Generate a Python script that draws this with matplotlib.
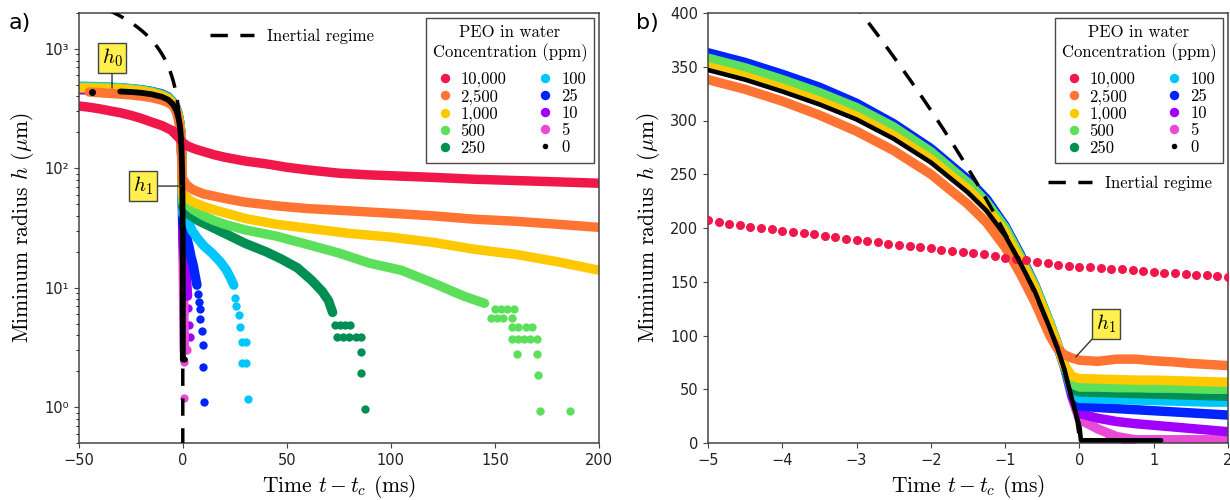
import numpy as np
import matplotlib.pyplot as plt
from matplotlib.lines import Line2D
from matplotlib.ticker import FixedLocator, FixedFormatter, LogLocator, NullFormatter

plt.rcParams['mathtext.fontset'] = 'cm'
plt.rcParams['font.family'] = 'DejaVu Sans'

# ---- data (time t - t_c in ms, minimum radius h in micrometres) ----
labels = ['10,000', '2,500', '1,000', '500', '250', '100', '25', '10', '5', '0']
colors = ['#F0174B', '#FF7433', '#FFC800', '#5CE05C', '#008F52',
          '#00C6FF', '#0024FF', '#A100FF', '#E84BD6', 'black']

t_pre = [-50, -45, -40, -35, -30, -25, -20, -15, -10, -7]
t_mid = [-5, -4.5, -4, -3.5, -3, -2.5, -2, -1.5, -1.25, -1, -0.8, -0.6, -0.4,
         -0.3, -0.2, -0.1, 0, 0.25, 0.5, 0.75, 1, 1.25, 1.5, 1.75, 2]

# 10,000 ppm: frames in the zoomed window are individually visible
t_red_frames = np.linspace(-5, 2, 50)
h_red_frames = [207, 205.5, 203.5, 203, 201, 200, 199, 197, 196.5, 195,
                194, 192.5, 192, 190, 189, 188, 187, 185.5, 184.5, 183.5,
                182, 181, 180, 179, 178, 176.5, 175.5, 174, 172.5, 171.5,
                170, 168.5, 167, 166, 165, 164, 163.5, 163, 162, 161.5,
                161, 160, 159.5, 158.5, 158, 157, 156.5, 156, 155, 154.5]
h_red_pre = [333, 325, 315, 303, 292, 278, 262, 244, 228, 215]
t_red_post = [3, 5, 7, 10, 15, 20, 30, 40, 50, 60, 75, 90, 105, 120, 140, 160, 180, 200]
h_red_post = [152, 147, 143, 138, 130, 124, 115, 109, 102, 97, 91, 88, 86, 84, 81, 79, 77, 75]

# 2,500 ppm
h_orange_pre = [np.nan, 436, 430, 424, 418, 412, 403, 391, 372, 355]
h_orange_mid = [338, 329, 318, 305, 290, 272, 250, 222, 205, 182, 158, 131, 100,
                88, 82, 79, 77, 76, 78, 78, 76.5, 75.5, 74, 73, 72]
t_orange_post = [5, 10, 15, 20, 30, 45, 60, 80, 100, 120, 140, 160, 180, 200]
h_orange_post = [66, 61, 58.5, 56, 52, 48.5, 46, 44, 42, 40, 37.5, 36, 34, 32]

# 1,000 ppm
h_gold_pre = [472, 471, 469, 466, 462, 455, 445, 430, 405, 382]
h_gold_mid = [350, 341, 330, 318, 304, 286, 264, 236, 219, 196, 171, 144, 110,
              92, 72, 62, 60, 59.5, 59, 58.5, 58.5, 58, 57.5, 57, 56.5]
t_gold_post = [5, 10, 15, 20, 30, 45, 60, 80, 100, 120, 140, 160, 180, 200]
h_gold_post = [52, 48, 45, 42.5, 38, 34, 31.5, 28.5, 26.5, 24, 21, 19, 16.5, 14]

# 500 ppm
h_lgreen_pre = [478, 477, 475, 472, 467, 460, 450, 435, 412, 390]
h_lgreen_mid = [358, 349, 338, 326, 312, 294, 271, 242, 224, 200, 174, 146, 112,
                93, 72, 55, 52, 52, 51.5, 51.5, 51, 51, 50.5, 50, 50]
t_lgreen_post = [5, 10, 15, 20, 30, 45, 60, 75, 90, 105, 120, 135, 145]
h_lgreen_post = [45, 40, 36.5, 34, 30.5, 27, 23, 19.5, 16, 14, 11, 8.5, 7.4]
t_lgreen_dots = [150, 153, 156, 159, 148, 151, 154, 158, 158, 161, 165, 168,
                 158, 161, 164, 167, 170, 160.4, 170, 170.8, 171.6, 186.1]
h_lgreen_dots = [6.6, 6.6, 6.6, 6.6, 5.6, 5.6, 5.6, 5.6, 4.7, 4.7, 4.7, 4.7,
                 3.75, 3.75, 3.75, 3.75, 3.75, 2.8, 2.8, 1.87, 0.93, 0.93]

# 250 ppm
h_dgreen_pre = [470, 469, 467, 464, 460, 453, 444, 430, 407, 385]
h_dgreen_mid = [355, 346, 335, 323, 309, 291, 269, 240, 222, 199, 173, 145, 111,
                92, 71, 50, 47.5, 47, 46.5, 46, 45.5, 45, 44.5, 44, 43.5]
t_dgreen_post = [3, 8, 15, 22, 30, 40, 47, 55, 62, 67, 70, 72]
h_dgreen_post = [41, 36, 31.5, 27.5, 23.5, 20, 17.5, 14.7, 11.5, 9.3, 7.8, 6.2]
t_dgreen_dots = [73, 75.5, 78, 80.5, 74, 77, 80, 83, 85.5, 85.8, 85.8, 87.5]
h_dgreen_dots = [4.85, 4.85, 4.85, 4.85, 3.9, 3.9, 3.9, 3.9, 3.9, 2.9, 1.94, 0.97]

# 100 ppm
h_cyan_pre = [488, 486, 483, 479, 473, 465, 454, 438, 414, 390]
h_cyan_mid = [357, 348, 337, 325, 311, 293, 270, 241, 223, 200, 174, 146, 111,
              92, 71, 47, 41.5, 41, 40.5, 40, 39.5, 39, 38.5, 38, 38]
t_cyan_post = [3, 4.5, 7, 10, 14, 18, 21, 23, 24.5]
h_cyan_post = [35, 30, 26, 22.5, 19.5, 16.5, 14, 12, 10.5]
t_cyan_dots = [25, 25.8, 27.1, 27.7, 28.5, 30.2, 28.5, 30.2, 31.4]
h_cyan_dots = [8.2, 7.0, 5.9, 4.7, 3.5, 3.5, 2.35, 2.35, 1.17]

# 25 ppm
h_blue_pre = [482, 481, 479, 476, 471, 464, 455, 441, 420, 396]
h_blue_mid = [363, 354, 343, 331, 316, 297, 274, 245, 227, 202, 176, 147, 112,
              93, 72, 46, 34.5, 33, 32, 31, 30, 29, 28, 27, 26]
t_blue_post = [3, 4, 5, 6, 6.8]
h_blue_post = [22, 18, 15.5, 12.5, 10.5]
t_blue_dots = [7.4, 7.9, 8.2, 8.5, 9, 9.5, 9.8, 10.3]
h_blue_dots = [8.8, 7.6, 6.6, 5.5, 4.3, 3.3, 2.17, 1.1]

# 10 ppm
h_purple_pre = [455, 455, 454, 452, 449, 444, 436, 423, 402, 380]
h_purple_mid = [352, 343, 332, 320, 306, 288, 266, 238, 220, 197, 172, 144, 110,
                92, 71, 44, 27.5, 23, 20, 18, 16.5, 15, 13.5, 12, 10.5]
t_purple_post = [2.3]
h_purple_post = [8.5]
t_purple_dots = [2.6, 3.0, 3.4]
h_purple_dots = [6.8, 4.9, 3.9]

# 5 ppm
h_magenta_pre = [458, 457, 456, 454, 450, 445, 437, 424, 403, 381]
h_magenta_mid = [350, 341, 330, 318, 304, 286, 264, 236, 219, 196, 170, 143, 109,
                 91, 70, 42, 22, 13, 6, 3, 3, 3, 3, 3, 3]
t_magenta_dots = [0.4, 0.5, 0.6, 0.7]
h_magenta_dots = [6, 4.8, 2.4, 1.2]

# 0 ppm (pure water)
t_black = [-30, -25, -20, -15, -10, -7, -5, -4.5, -4, -3.5, -3, -2.5, -2, -1.5,
           -1.25, -1, -0.8, -0.6, -0.4, -0.3, -0.2, -0.1, -0.05, 0, 0.02, 0.25,
           0.5, 0.75, 1, 1.1]
h_black = [440, 436, 429, 417, 397, 375, 347, 338, 327, 315, 301, 283, 261, 233,
           216, 193, 168, 141, 107, 89, 68, 40, 28, 15, 2.5, 2.5, 2.5, 2.5, 2.5, 2.5]
t_black_dots = [-43.4]
h_black_dots = [438]

# inertial regime prefactor, h = A (t_c - t)^(2/3)
A_inertial = 195


def series(pre, mid, t_post=(), h_post=()):
    t = list(t_pre) + list(t_mid) + list(t_post)
    h = list(pre) + list(mid) + list(h_post)
    return t, h


bands = [
    (list(t_pre) + list(t_red_frames) + t_red_post,
     list(h_red_pre) + h_red_frames + h_red_post),
    series(h_orange_pre, h_orange_mid, t_orange_post, h_orange_post),
    series(h_gold_pre, h_gold_mid, t_gold_post, h_gold_post),
    series(h_lgreen_pre, h_lgreen_mid, t_lgreen_post, h_lgreen_post),
    series(h_dgreen_pre, h_dgreen_mid, t_dgreen_post, h_dgreen_post),
    series(h_cyan_pre, h_cyan_mid, t_cyan_post, h_cyan_post),
    series(h_blue_pre, h_blue_mid, t_blue_post, h_blue_post),
    series(h_purple_pre, h_purple_mid, t_purple_post, h_purple_post),
    series(h_magenta_pre, h_magenta_mid),
]
dots = [([], []), ([], []), ([], []), (t_lgreen_dots, h_lgreen_dots),
        (t_dgreen_dots, h_dgreen_dots), (t_cyan_dots, h_cyan_dots),
        (t_blue_dots, h_blue_dots), (t_purple_dots, h_purple_dots),
        (t_magenta_dots, h_magenta_dots)]

t_in = -np.logspace(2, -6, 600)
h_in = A_inertial * (-t_in) ** (2 / 3)

# ---- figure ----
fig = plt.figure(figsize=(12.3, 5), dpi=100)
axa = fig.add_axes([0.064, 0.114, 0.423, 0.86])
axb = fig.add_axes([0.5756, 0.114, 0.4228, 0.86])

serif = {'family': 'cmr10'}
band_lw = 6.8
dot_ms = 6.0
dash = (5, 3.6)

for ax, right in [(axa, False), (axb, True)]:
    for i in range(8, -1, -1):
        t, h = bands[i]
        if right and i == 0:
            ax.plot(t_red_frames, h_red_frames, 'o', color=colors[0], ms=6.5,
                    mec='none', zorder=3)
        else:
            ax.plot(t, h, '-', color=colors[i], lw=band_lw,
                    solid_capstyle='round', solid_joinstyle='round', zorder=2 + 0.01 * (9 - i))
        td, hd = dots[i]
        if len(td):
            ax.plot(td, hd, 'o', color=colors[i], ms=dot_ms, mec='none', zorder=2)
    ax.plot(t_black, h_black, '-', color='black', lw=3.3 if right else 4.2,
            solid_capstyle='round', zorder=4)
    ax.plot(t_black_dots, h_black_dots, 'o', color='black', ms=4, zorder=4)
    ax.plot(t_in, h_in, color='black', lw=2.5, dashes=dash, zorder=5)

    for s in ax.spines.values():
        s.set_color('#444444')
        s.set_linewidth(1.1)
    ax.tick_params(colors='#444444', labelcolor='#222222', labelsize=10.5)
    ax.set_xlabel(r'Time $t - t_c$ (ms)', fontdict=serif, fontsize=15.5)
    ax.set_ylabel(r'Miminum radius $h$ ($\mu$m)', fontdict=serif, fontsize=15.5,
                  labelpad=6)

    handles = [Line2D([], [], ls='none', marker='o', color=c, mec='none',
                      ms=6.8 if c != 'black' else 4.0) for c in colors]
    leg = ax.legend(handles, labels, ncol=2, loc='upper right',
                    bbox_to_anchor=(0.99, 0.988), borderaxespad=0,
                    prop={'family': 'cmr10', 'size': 12},
                    title='PEO in water\nConcentration (ppm)',
                    title_fontproperties={'family': 'cmr10', 'size': 12},
                    alignment='center',
                    frameon=True, fancybox=False, framealpha=1, edgecolor='#554444',
                    handletextpad=0.3, columnspacing=1.7, labelspacing=0.1,
                    handlelength=1.3, borderpad=0.4)
    leg.get_title().set_multialignment('center')
    leg._legend_box.sep = 7
    leg.get_frame().set_linewidth(1.0)
    ax.add_artist(leg)
    ih = [Line2D([], [], color='black', lw=2.5, dashes=dash)]
    anchor = (0.812, 0.605) if right else (0.41, 0.945)
    ax.legend(ih, ['Inertial regime'], loc='center', bbox_to_anchor=anchor,
              frameon=False, prop={'family': 'cmr10', 'size': 12},
              handlelength=2.6, handletextpad=0.8)

box = dict(boxstyle='square,pad=0.18', fc='#FFF050', ec='#444444', lw=1)
arrow = dict(arrowstyle='-', color='#333333', lw=1, shrinkA=0, shrinkB=0)

axa.set_yscale('log')
axa.set_xlim(-50, 200)
axa.set_ylim(0.5, 2000)
axa.set_xticks([-50, 0, 50, 100, 150, 200])
axa.yaxis.set_major_locator(FixedLocator([1, 10, 100, 1000]))
axa.yaxis.set_major_formatter(FixedFormatter(['10\u2070', '10\u00b9', '10\u00b2', '10\u00b3']))
axa.yaxis.set_minor_locator(LogLocator(base=10, subs=np.arange(2, 10), numticks=20))
axa.yaxis.set_minor_formatter(NullFormatter())
axa.annotate(r'$h_0$', xy=(-34, 470), xytext=(-34, 840), fontsize=15,
             ha='center', va='center', bbox=box, arrowprops=arrow, zorder=6)
axa.annotate(r'$h_1$', xy=(-0.5, 71), xytext=(-19, 71), fontsize=15,
             ha='center', va='center', bbox=box, arrowprops=arrow, zorder=6)

axb.set_xlim(-5, 2)
axb.set_ylim(0, 400)
axb.set_xticks(range(-5, 3))
axb.set_yticks(range(0, 401, 50))
axb.annotate(r'$h_1$', xy=(-0.05, 80), xytext=(0.36, 111), fontsize=15,
             ha='center', va='center', bbox=box, arrowprops=arrow, zorder=6)

fig.text(0.007, 0.955, 'a)', fontsize=16, va='center')
fig.text(0.517, 0.955, 'b)', fontsize=16, va='center')

fig.savefig('out.png', dpi=100)
